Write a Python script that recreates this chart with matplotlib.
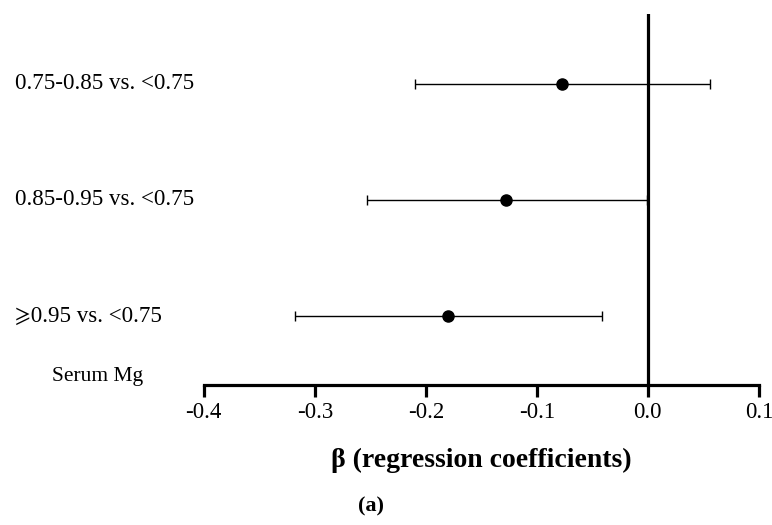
import matplotlib
matplotlib.use("Agg")
import matplotlib.pyplot as plt
from matplotlib.transforms import blended_transform_factory

# Serum Mg categories vs. reference <0.75
labels = ["0.75-0.85 vs. <0.75", "0.85-0.95 vs. <0.75", "\u2A7E0.95 vs. <0.75"]
beta = [-0.077, -0.128, -0.180]
ci_low = [-0.210, -0.253, -0.318]
ci_high = [0.056, -0.001, -0.041]
ypos = [3, 2, 1]
xticks = [-0.4, -0.3, -0.2, -0.1, 0.0, 0.1]

plt.rcParams["font.family"] = ["Liberation Serif", "STIXGeneral", "DejaVu Sans"]

fig = plt.figure(figsize=(7.72, 5.25), dpi=100)
ax = fig.add_axes([0.264, 0.2667, 0.719, 0.7066])

err = [[b - lo for b, lo in zip(beta, ci_low)],
       [hi - b for b, hi in zip(beta, ci_high)]]
ax.errorbar(beta, ypos, xerr=err, fmt="o", color="black", ms=8,
            elinewidth=1, capsize=3.8, capthick=1, zorder=3)
ax.axvline(0, color="black", linewidth=2.3, zorder=2)

ax.set_xlim(-0.4, 0.1)
ax.set_ylim(0.405, 3.603)
ax.set_xticks(xticks)
ax.set_xticklabels([f"{t:.1f}" for t in xticks], fontsize=16.5)
ax.set_yticks([])
for s in ["top", "right", "left"]:
    ax.spines[s].set_visible(False)
ax.spines["bottom"].set_linewidth(2.3)
ax.tick_params(axis="x", direction="out", length=8.5, width=2.3, pad=4)

trans = blended_transform_factory(fig.transFigure, ax.transData)
for lab, y in zip(labels, ypos):
    ax.text(15 / 772, y, lab, transform=trans, ha="left", va="center",
            fontsize=16.6)

fig.text(98 / 772, 1 - 376 / 525, "Serum Mg", ha="center", va="center",
         fontsize=15.5)
fig.text(481 / 772, 1 - 460 / 525, "\u03b2 (regression coefficients)",
         ha="center", va="center", fontsize=20, fontweight="bold")
fig.text(371 / 772, 1 - 506 / 525, "(a)", ha="center", va="center",
         fontsize=16, fontweight="bold")

fig.savefig("out.png", dpi=100)
